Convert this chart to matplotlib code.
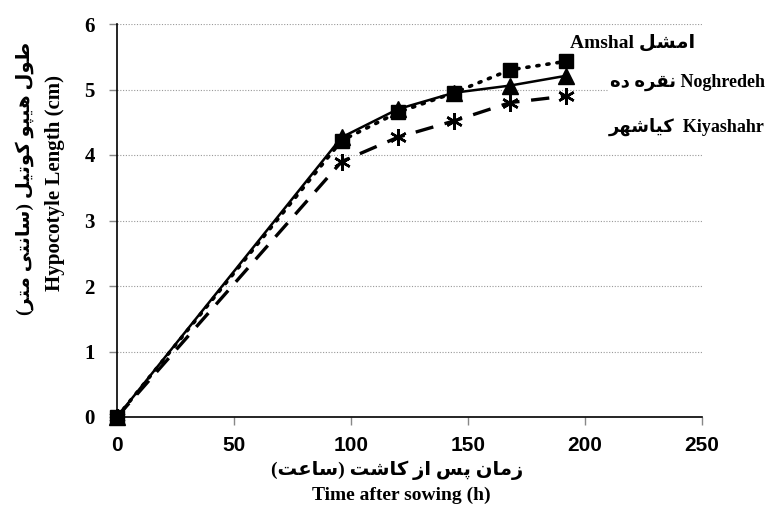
import matplotlib
matplotlib.use("Agg")
import matplotlib.pyplot as plt

# data
hours = [0, 96, 120, 144, 168, 192]
amshal = [0, 4.22, 4.65, 4.95, 5.30, 5.43]
noghredeh = [0, 4.27, 4.70, 4.95, 5.06, 5.21]
kiyashahr = [0, 3.90, 4.27, 4.52, 4.80, 4.90]

x_ticks = [0, 50, 100, 150, 200, 250]
y_ticks = [0, 1, 2, 3, 4, 5, 6]

# Persian letter forms: isolated, final, initial, medial (None = does not join forward)
FORMS = {
    'ا': ('\uFE8D', '\uFE8E', None, None),
    'ب': ('\uFE8F', '\uFE90', '\uFE91', '\uFE92'),
    'پ': ('\uFB56', '\uFB57', '\uFB58', '\uFB59'),
    'ت': ('\uFE95', '\uFE96', '\uFE97', '\uFE98'),
    'د': ('\uFEA9', '\uFEAA', None, None),
    'ر': ('\uFEAD', '\uFEAE', None, None),
    'ز': ('\uFEAF', '\uFEB0', None, None),
    'س': ('\uFEB1', '\uFEB2', '\uFEB3', '\uFEB4'),
    'ش': ('\uFEB5', '\uFEB6', '\uFEB7', '\uFEB8'),
    'ط': ('\uFEC1', '\uFEC2', '\uFEC3', '\uFEC4'),
    'ع': ('\uFEC9', '\uFECA', '\uFECB', '\uFECC'),
    'ق': ('\uFED5', '\uFED6', '\uFED7', '\uFED8'),
    'ک': ('\uFB8E', '\uFB8F', '\uFB90', '\uFB91'),
    'ل': ('\uFEDD', '\uFEDE', '\uFEDF', '\uFEE0'),
    'م': ('\uFEE1', '\uFEE2', '\uFEE3', '\uFEE4'),
    'ن': ('\uFEE5', '\uFEE6', '\uFEE7', '\uFEE8'),
    'ه': ('\uFEE9', '\uFEEA', '\uFEEB', '\uFEEC'),
    'و': ('\uFEED', '\uFEEE', None, None),
    'ی': ('\uFBFC', '\uFBFD', '\uFBFE', '\uFBFF'),
}


def fa(text):
    """shape persian text by hand and return it in visual (left to right) order"""
    out = []
    for i, c in enumerate(text):
        if c not in FORMS:
            out.append(c)
            continue
        prev = text[i - 1] if i > 0 else None
        nxt = text[i + 1] if i + 1 < len(text) else None
        join_prev = prev in FORMS and FORMS[prev][2] is not None
        join_next = nxt in FORMS and FORMS[c][2] is not None
        iso, fin, ini, med = FORMS[c]
        if join_prev and join_next:
            out.append(med)
        elif join_prev:
            out.append(fin)
        elif join_next:
            out.append(ini)
        else:
            out.append(iso)
    swap = {'(': ')', ')': '('}
    return ''.join(swap.get(c, c) for c in reversed(out))


W, H = 769, 527
SERIF = ['Liberation Serif', 'DejaVu Sans']

fig = plt.figure(figsize=(W / 100, H / 100), dpi=100)
ax = fig.add_axes([117 / W, 110 / H, 585 / W, 393 / H])

ax.plot(hours, amshal, color='black', linestyle=(0, (0.6, 2.2)), dash_capstyle='round',
        linewidth=2.6, marker='s', markersize=10, clip_on=False, zorder=3)
ax.plot(hours, noghredeh, color='black', linestyle='-', linewidth=1.8,
        marker='^', markersize=11, clip_on=False, zorder=3)
ax.plot(hours, kiyashahr, color='black', linestyle=(0, (5.5, 3.5)), linewidth=2.4,
        marker=(6, 2, 0), markersize=12, markeredgewidth=1.8, clip_on=False, zorder=4)

ax.set_xlim(0, 250)
ax.set_ylim(0, 6)
ax.set_xticks(x_ticks)
ax.set_yticks(y_ticks)
ax.set_xticklabels([str(v) for v in x_ticks], fontfamily='Liberation Sans',
                   fontweight='bold', fontsize=15)
ax.set_yticklabels([str(v) for v in y_ticks], fontfamily='Liberation Serif',
                   fontweight='bold', fontsize=15)
ax.tick_params(axis='both', direction='out', length=6, color='#888888', width=1)
ax.tick_params(axis='y', pad=10)
ax.tick_params(axis='x', pad=8)

ax.grid(axis='y', color='#999999', linestyle=(0, (1, 1.5)), linewidth=0.8)
ax.set_axisbelow(True)
for side in ['top', 'right']:
    ax.spines[side].set_visible(False)
for side in ['left', 'bottom']:
    ax.spines[side].set_color('black')
    ax.spines[side].set_linewidth(1.2)


def ftext(x, y, s, **kw):
    fig.text(x / W, 1 - y / H, s, fontfamily=SERIF, fontweight='bold', **kw)


# axis titles
ftext(397, 470, fa('زمان پس از کاشت (ساعت)'), fontsize=14, ha='center', va='center')
ftext(401, 495, 'Time after sowing (h)', fontsize=14, ha='center', va='center')
ftext(25, 178, fa('طول هیپو کوتیل (سانتی متر)'), fontsize=14, ha='center', va='center',
      rotation=90)
ftext(55, 183, 'Hypocotyle Length (cm)', fontsize=15, ha='center', va='center',
      rotation=90)

# series labels
box = dict(facecolor='white', edgecolor='none', pad=1)
ftext(570, 43, 'Amshal ' + fa('امشل'), fontsize=14, ha='left', va='center', bbox=box)
ftext(765, 82, fa('نقره ده') + ' Noghredeh', fontsize=13, ha='right', va='center', bbox=box)
ftext(765, 127, fa('کیاشهر') + '  Kiyashahr', fontsize=13, ha='right', va='center', bbox=box)

fig.savefig('out.png', dpi=100)
